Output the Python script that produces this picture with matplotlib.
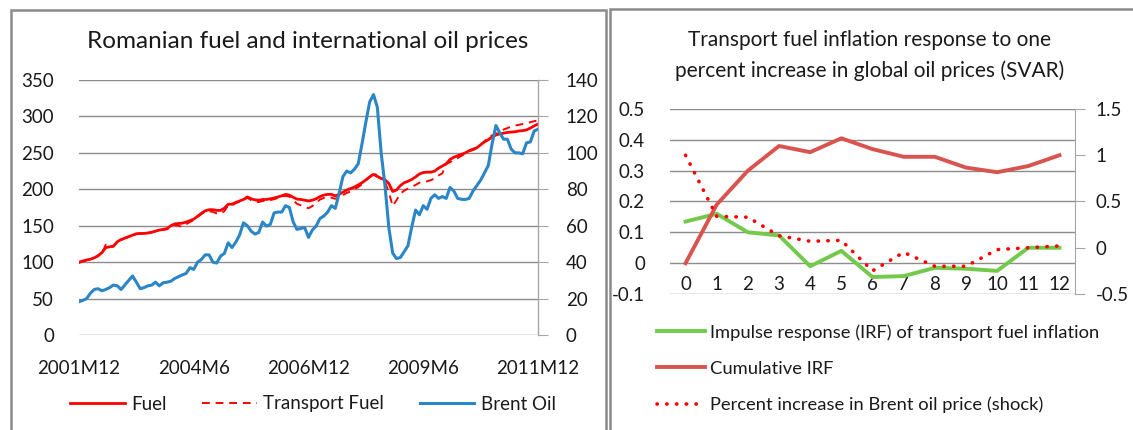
import matplotlib
matplotlib.use("Agg")
import matplotlib.pyplot as plt
from matplotlib.patches import Rectangle
import numpy as np

plt.rcParams['font.family'] = ['Lato', 'DejaVu Sans']

# ---------------- Left chart data (monthly, 2001M12 .. 2011M12) ----------------
tick_labels_left = ["2001M12", "2004M6", "2006M12", "2009M6", "2011M12"]

fuel = [100, 101.5, 103, 104, 106, 109, 113, 120, 121, 122,
        128, 131, 133, 135, 137, 139, 139.4, 139.4, 140, 141,
        142.6, 144, 145, 146, 150, 152.5, 153, 153.5, 155, 157,
        159, 163, 167, 170.5, 172, 172, 171, 171, 174, 179.5,
        179.5, 182, 184, 186, 189.5, 187, 185.5, 185, 186, 186,
        187, 188, 189.5, 191, 193, 192, 189, 186.5, 186, 185,
        184, 185, 187, 190, 192, 193, 193, 191, 193, 196,
        199, 201, 203, 206, 209, 213, 217, 220.5, 217.5, 215,
        213, 208, 197, 199, 205, 209, 211, 213.5, 217, 221,
        223, 223.5, 223.5, 225, 229, 232, 235, 241, 244, 246,
        248, 250, 253, 255, 257, 261, 265, 268, 272, 274.5,
        276, 277, 278, 278.5, 279, 280, 280.5, 281.5, 284, 287,
        289.5]

transport_fuel = [99, 101, 102.5, 104, 106, 108, 112, 124, 120, 121.5,
                  127, 130, 133, 134.5, 136.5, 138.5, 139, 139, 140, 141,
                  142, 143.5, 144.5, 145, 149, 151, 150, 148.5, 152, 155,
                  158, 162, 166, 169.5, 170, 169, 167, 166.5, 170, 178,
                  178, 181, 183, 185, 188.5, 185, 183, 182.5, 184, 184,
                  185, 186.5, 188, 189.5, 191, 190, 185, 180, 178, 176,
                  174, 177, 181, 186, 188, 189, 188.5, 187, 189, 192,
                  195, 197, 200, 203, 207, 212, 217, 223.5, 218, 214,
                  210, 196, 177, 185, 194, 198, 201, 203, 206, 209,
                  210, 211, 212.5, 215, 219, 222, 235, 237, 241, 243,
                  246, 249, 252, 254, 256, 261, 266, 271, 274, 276,
                  279, 282, 284, 286, 287.5, 288.5, 289.5, 290.5, 292, 293.5,
                  294.5]

brent_oil = [18.3, 19, 20, 23, 25, 25.4, 24.3, 25, 26, 27.4,
             27, 25, 27.5, 30, 32.4, 29, 25.4, 26, 27, 27.4,
             29, 27, 28.7, 29, 29.5, 31, 32, 33, 33.8, 37,
             36, 40, 41.5, 44, 44, 40, 39.5, 43.3, 44.8, 50.6,
             48, 51, 55, 61.6, 60, 57, 55.4, 56.3, 62, 59.8,
             60.7, 67, 67.5, 67.5, 71, 70, 62, 58, 58.5, 59,
             53.6, 57.6, 59.8, 64, 65.3, 67.5, 71, 69.5, 77.7, 87,
             90, 89, 91, 94, 105, 117, 128, 132, 125, 100,
             82, 59, 45, 42, 42.5, 45.7, 49, 59.4, 68.6, 66,
             71, 69, 75, 77, 75, 76, 75, 81, 79, 75,
             74.5, 74.4, 75, 79, 82, 85, 89, 93, 105, 115,
             111, 107.5, 107.5, 102, 100, 100, 99.5, 105.5, 106, 112,
             113]

# ---------------- Right chart data ----------------
horizons = list(range(13))
irf = [0.135, 0.16, 0.10, 0.09, -0.01, 0.04, -0.045, -0.042, -0.015, -0.018, -0.025, 0.05, 0.05]
cumulative_irf = [0.0, 0.19, 0.30, 0.38, 0.36, 0.405, 0.37, 0.345, 0.345, 0.31, 0.295, 0.315, 0.35]
shock = [1.0, 0.34, 0.33, 0.13, 0.07, 0.08, -0.25, -0.05, -0.2, -0.2, -0.02, 0.0, 0.02]

W, H = 1133, 430
fig = plt.figure(figsize=(W / 100, H / 100), dpi=100)

def fx(px):
    return px / W

def fy(py):
    return 1 - py / H

GRID = '#8c8c8c'
TXT = '#1a1a1a'
FS = 13.5

# panel borders
fig.add_artist(Rectangle((fx(11), fy(440)), fx(606) - fx(11), fy(10) - fy(440),
                         transform=fig.transFigure, fill=False, edgecolor='#8a8a8a', lw=1.8))
fig.add_artist(Rectangle((fx(610), fy(440)), fx(1140) - fx(610), fy(9) - fy(440),
                         transform=fig.transFigure, fill=False, edgecolor='#8a8a8a', lw=1.8))

# ---------------- Left chart ----------------
axL = fig.add_axes([fx(79), fy(335), fx(538) - fx(79), fy(80) - fy(335)])
x = np.arange(len(fuel))
axL.set_xlim(0, len(fuel) - 1)
axL.set_ylim(0, 350)
axL.set_yticks(np.arange(0, 351, 50))
axL.yaxis.grid(True, color=GRID, lw=1.0)
axL.set_axisbelow(True)
for s in axL.spines.values():
    s.set_visible(False)
axL.tick_params(axis='y', length=0, labelsize=FS, colors=TXT, pad=18)
step = 30
axL.set_xticks(x[::step])
axL.set_xticklabels(tick_labels_left)
axL.tick_params(axis='x', length=0, labelsize=FS, colors=TXT, pad=18)

axR = axL.twinx()
axR.set_ylim(0, 140)
axR.set_yticks(np.arange(0, 141, 20))
for k, s in axR.spines.items():
    s.set_visible(k == 'right')
axR.spines['right'].set_color('#a6a6a6')
axR.spines['right'].set_linewidth(1.0)
axR.tick_params(axis='y', direction='out', length=7, color='#a6a6a6', labelsize=FS, colors=TXT, pad=13)

l1, = axL.plot(x, fuel, color='#ff0000', lw=2.0, zorder=3)
l2, = axL.plot(x, transport_fuel, color='#ff0000', lw=1.4, ls=(0, (4, 3)), zorder=3)
l3, = axR.plot(x, brent_oil, color='#2a86c6', lw=2.2, zorder=3)

fig.text(fx(308), fy(42), "Romanian fuel and international oil prices", ha='center', va='center',
         fontsize=17.5, color=TXT)

fig.legend([l1, l2, l3], ["Fuel", "Transport Fuel", "Brent Oil"], loc='center',
           bbox_to_anchor=(fx(313), fy(404)), ncol=3, frameon=False, fontsize=FS,
           handlelength=2.9, columnspacing=1.9, handletextpad=0.35, labelcolor=TXT,
           borderpad=0, borderaxespad=0)

# ---------------- Right chart ----------------
ax2 = fig.add_axes([fx(670), fy(294), fx(1075) - fx(670), fy(109) - fy(294)])
ax2.set_xlim(-0.5, 12.5)
ax2.set_ylim(-0.1, 0.5)
ax2.set_yticks(np.round(np.arange(-0.1, 0.51, 0.1), 1))
ax2.set_yticklabels(['-0.1', '0', '0.1', '0.2', '0.3', '0.4', '0.5'])
ax2.yaxis.grid(True, color=GRID, lw=1.0)
ax2.set_axisbelow(True)
for s in ax2.spines.values():
    s.set_visible(False)
ax2.tick_params(axis='y', length=0, labelsize=FS, colors=TXT, pad=18)
ax2.set_xticks([])
for h in horizons:
    ax2.text(h, -0.1 + 10 / 310, str(h), ha='center', va='center', fontsize=FS, color=TXT)

ax3 = ax2.twinx()
ax3.set_ylim(-0.5, 1.5)
ax3.set_yticks([-0.5, 0, 0.5, 1, 1.5])
ax3.set_yticklabels(['-0.5', '0', '0.5', '1', '1.5'])
for k, s in ax3.spines.items():
    s.set_visible(k == 'right')
ax3.spines['right'].set_color('#a6a6a6')
ax3.tick_params(axis='y', direction='out', length=7, color='#a6a6a6', labelsize=FS, colors=TXT, pad=8)

g1, = ax2.plot(horizons, irf, color='#72c94a', lw=2.8, zorder=3)
g2, = ax2.plot(horizons, cumulative_irf, color='#d9534f', lw=2.8, zorder=3)
g3, = ax3.plot(horizons, shock, color='#ff0000', lw=2.6, ls=(0, (0.1, 2.6)),
               dash_capstyle='round', zorder=3)

fig.text(fx(870), fy(40), "Transport fuel inflation response to one", ha='center', va='center',
         fontsize=15, color=TXT)
fig.text(fx(870), fy(71), "percent increase in global oil prices (SVAR)", ha='center', va='center',
         fontsize=15, color=TXT)

fig.legend([g1, g2, g3], ["Impulse response (IRF) of transport fuel inflation", "Cumulative IRF",
                          "Percent increase in Brent oil price (shock)"],
           loc='upper left', bbox_to_anchor=(fx(657), fy(324)), ncol=1, frameon=False, fontsize=13.2,
           handlelength=2.6, handletextpad=0.3, labelspacing=1.1, labelcolor=TXT,
           borderpad=0, borderaxespad=0)

fig.savefig("out.png", dpi=100)
